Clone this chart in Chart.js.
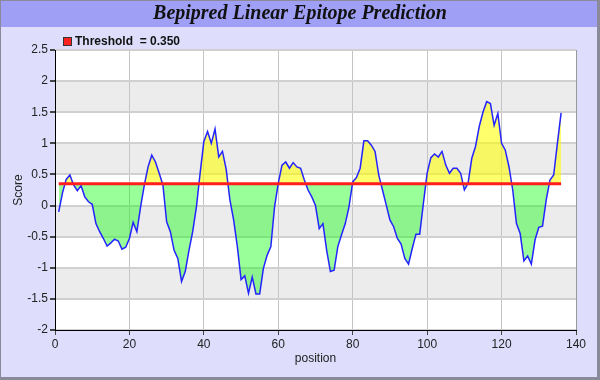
<!DOCTYPE html>
<html>
<head>
<meta charset="utf-8">
<script src="https://cdn.jsdelivr.net/npm/chart.js@4"></script>
<style>
  html, body { margin: 0; padding: 0; background: #dedefc; }
  #wrap { width: 600px; height: 380px; position: relative; }
</style>
</head>
<body>
<div id="wrap"><canvas id="chart" width="600" height="380"></canvas></div>
<script>
// ── Data ────────────────────────────────────────────────────
const chartTitle = 'Bepipred Linear Epitope Prediction';
const thresholdValue = 0.35;
const thresholdLabel = 'Threshold  = 0.350';
const firstPosition = 1;

const scores = [
  -0.10, 0.20, 0.42, 0.49, 0.33, 0.24, 0.32, 0.14, 0.06, 0.02,
  -0.29, -0.42, -0.53, -0.65, -0.60, -0.54, -0.57, -0.70, -0.67, -0.53,
  -0.27, -0.42, -0.02, 0.33, 0.62, 0.81, 0.70, 0.52, 0.33, -0.26,
  -0.42, -0.72, -0.85, -1.22, -1.06, -0.72, -0.42, -0.02, 0.52, 1.03,
  1.19, 1.00, 1.23, 0.78, 0.87, 0.58, 0.09, -0.23, -0.66, -1.19,
  -1.13, -1.41, -1.15, -1.42, -1.42, -1.01, -0.80, -0.66, -0.02, 0.36,
  0.65, 0.70, 0.60, 0.69, 0.62, 0.60, 0.41, 0.25, 0.14, 0.00,
  -0.37, -0.29, -0.72, -1.06, -1.04, -0.66, -0.47, -0.29, -0.02, 0.38,
  0.45, 0.60, 1.04, 1.04, 0.97, 0.87, 0.49, 0.25, 0.01, -0.23,
  -0.34, -0.53, -0.62, -0.85, -0.94, -0.69, -0.46, -0.46, 0.04, 0.52,
  0.77, 0.83, 0.78, 0.87, 0.65, 0.52, 0.60, 0.60, 0.52, 0.25,
  0.36, 0.76, 0.95, 1.27, 1.50, 1.67, 1.64, 1.29, 1.48, 1.00,
  0.89, 0.62, 0.25, -0.29, -0.45, -0.89, -0.81, -0.94, -0.55, -0.35,
  -0.33, 0.09, 0.41, 0.49, 1.00, 1.49
];

const xTicks = [0, 20, 40, 60, 80, 100, 120, 140];
const yTicks = [-2, -1.5, -1, -0.5, 0, 0.5, 1, 1.5, 2, 2.5];

// ── Build points ─────────────────────────────────────────────
const scorePoints = scores.map((v, i) => ({ x: firstPosition + i, y: v }));
const lastPosition = firstPosition + scores.length - 1;
const thresholdPoints = [
  { x: firstPosition, y: thresholdValue },
  { x: lastPosition, y: thresholdValue }
];

const FONT = '"Liberation Sans", Arial, sans-serif';

// Frame, title bar, banded plot background and legend
const framePlugin = {
  id: 'frame',
  beforeDraw(chart) {
    const { ctx, width, height, chartArea: a, scales } = chart;
    ctx.save();
    ctx.fillStyle = '#dedefc';
    ctx.fillRect(0, 0, width, height);
    ctx.fillStyle = '#9f9ff6';
    ctx.fillRect(0, 0, width, 27);

    // plot area + alternating bands
    ctx.fillStyle = '#ffffff';
    ctx.fillRect(a.left, a.top, a.right - a.left, a.bottom - a.top);
    ctx.fillStyle = '#ececec';
    for (let i = 0; i < yTicks.length - 1; i++) {
      if (i % 2 === 1) {
        const y1 = scales.y.getPixelForValue(yTicks[i]);
        const y2 = scales.y.getPixelForValue(yTicks[i + 1]);
        ctx.fillRect(a.left, y2, a.right - a.left, y1 - y2);
      }
    }
    ctx.restore();
  },
  afterDraw(chart) {
    const { ctx, width, height, chartArea: a } = chart;
    ctx.save();
    // title
    ctx.fillStyle = '#111';
    ctx.font = 'italic bold 20px "Liberation Serif", "Times New Roman", serif';
    ctx.textAlign = 'center';
    ctx.textBaseline = 'middle';
    ctx.fillText(chartTitle, width / 2, 14);

    // legend
    ctx.fillStyle = '#ff2020';
    ctx.fillRect(63, 37, 9, 9);
    ctx.strokeStyle = '#333';
    ctx.lineWidth = 1;
    ctx.strokeRect(63.5, 37.5, 8, 8);
    ctx.fillStyle = '#111';
    ctx.font = 'bold 12px ' + FONT;
    ctx.textAlign = 'left';
    ctx.fillText(thresholdLabel, 75, 42);

    // right edge of plot
    ctx.strokeStyle = '#999';
    ctx.beginPath();
    ctx.moveTo(a.right + 0.5, a.top);
    ctx.lineTo(a.right + 0.5, a.bottom);
    ctx.stroke();

    // outer border
    ctx.strokeStyle = '#8a8a9a';
    ctx.strokeRect(0.5, 0.5, width - 1, height - 1);
    ctx.lineWidth = 3;
    ctx.beginPath();
    ctx.moveTo(0, height - 1.5);
    ctx.lineTo(width, height - 1.5);
    ctx.moveTo(width - 1.5, 0);
    ctx.lineTo(width - 1.5, height);
    ctx.stroke();
    ctx.restore();
  }
};

new Chart(document.getElementById('chart').getContext('2d'), {
  type: 'line',
  data: {
    datasets: [
      {
        label: thresholdLabel,
        data: thresholdPoints,
        borderColor: '#ff1e1e',
        borderWidth: 3,
        pointRadius: 0,
        fill: false,
        order: 0
      },
      {
        label: 'Score',
        data: scorePoints,
        borderColor: '#2424ff',
        borderWidth: 1.5,
        pointRadius: 0,
        tension: 0,
        fill: {
          target: { value: thresholdValue },
          above: 'rgba(255, 255, 0, 0.58)',
          below: 'rgba(0, 255, 0, 0.4)'
        },
        order: 1
      }
    ]
  },
  options: {
    responsive: false,
    animation: false,
    devicePixelRatio: 1,
    layout: { padding: { top: 50, right: 24, left: 0, bottom: 0 } },
    plugins: {
      legend: { display: false },
      title: { display: false },
      tooltip: { enabled: false }
    },
    scales: {
      x: {
        type: 'linear',
        min: 0,
        max: 140,
        afterBuildTicks: s => { s.ticks = xTicks.map(v => ({ value: v })); },
        afterFit: s => { s.height = 50; },
        ticks: { color: '#222', font: { family: FONT, size: 12 }, padding: 2, maxRotation: 0, callback: v => String(v) },
        grid: { color: '#c4c4c4', lineWidth: 1, tickColor: '#444', tickLength: 5 },
        border: { color: '#000', width: 1 },
        title: { display: true, text: 'position', color: '#222', font: { family: FONT, size: 12 }, padding: { top: 16, bottom: 14 } }
      },
      y: {
        type: 'linear',
        min: -2,
        max: 2.5,
        afterBuildTicks: s => { s.ticks = yTicks.map(v => ({ value: v })); },
        afterFit: s => { s.width = 55; },
        ticks: { color: '#222', font: { family: FONT, size: 12 }, padding: 2, callback: v => String(v) },
        grid: { color: '#d0d0d0', lineWidth: 2, tickColor: '#444', tickLength: 5 },
        border: { color: '#000', width: 1 },
        title: { display: true, text: 'Score', color: '#222', font: { family: FONT, size: 12 }, padding: { top: 11, bottom: 11 } }
      }
    }
  },
  plugins: [framePlugin]
});
</script>
</body>
</html>
